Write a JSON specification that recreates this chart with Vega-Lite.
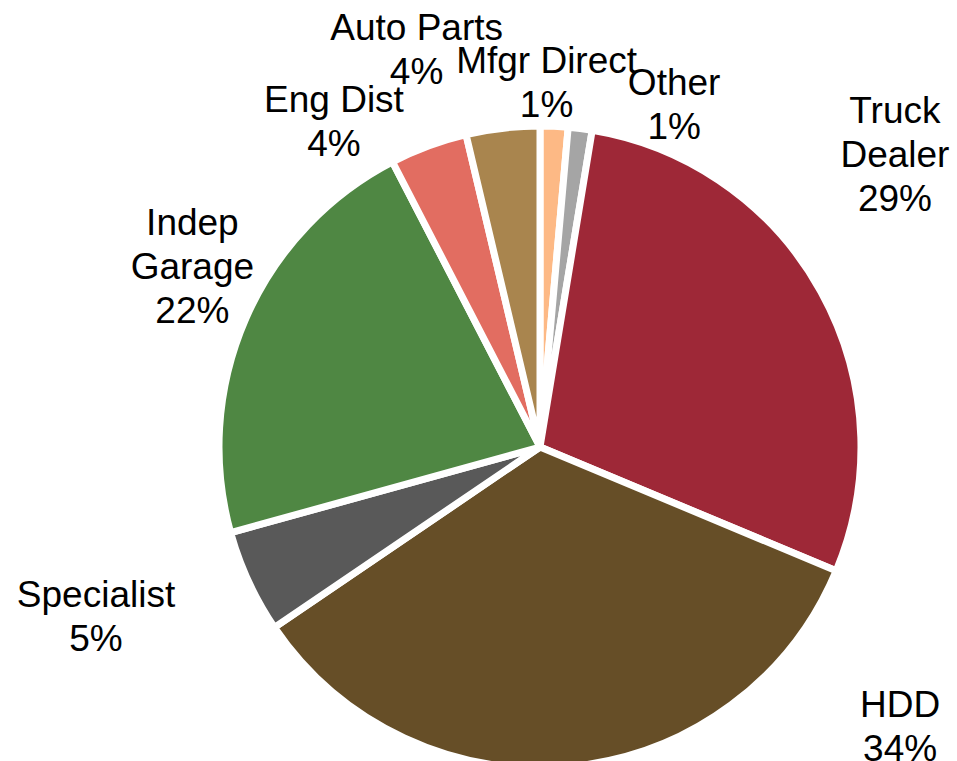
{
  "$schema": "https://vega.github.io/schema/vega-lite/v6.json",
  "width": 834,
  "height": 628,
  "autosize": {"type": "none"},
  "padding": {"left": 123, "top": 133, "right": 0, "bottom": 0},
  "background": "white",
  "config": {"view": {"stroke": null}},
  "data": {
    "values": [
      {"seg": "Mfgr Direct", "value": 1.4, "rank": 1, "lbl": "Mfgr Direct\n1%"},
      {"seg": "Other", "value": 1.2, "rank": 2, "lbl": "Other\n1%"},
      {"seg": "Truck Dealer", "value": 28.7, "rank": 3, "lbl": "Truck\nDealer\n29%"},
      {"seg": "HDD", "value": 34.2, "rank": 4, "lbl": "HDD\n34%"},
      {"seg": "Specialist", "value": 5.2, "rank": 5, "lbl": "Specialist\n5%"},
      {"seg": "Indep Garage", "value": 21.7, "rank": 6, "lbl": "Indep\nGarage\n22%"},
      {"seg": "Eng Dist", "value": 3.9, "rank": 7, "lbl": "Eng Dist\n4%"},
      {"seg": "Auto Parts", "value": 3.7, "rank": 8, "lbl": "Auto Parts\n4%"}
    ]
  },
  "encoding": {
    "theta": {"field": "value", "type": "quantitative", "stack": true},
    "order": {"field": "rank", "type": "quantitative"},
    "detail": {"field": "seg", "type": "nominal"}
  },
  "layer": [
    {
      "mark": {"type": "arc", "outerRadius": 321, "stroke": "white", "strokeWidth": 7},
      "encoding": {
        "color": {
          "field": "seg",
          "type": "nominal",
          "legend": null,
          "scale": {
            "domain": ["Mfgr Direct", "Other", "Truck Dealer", "HDD", "Specialist", "Indep Garage", "Eng Dist", "Auto Parts"],
            "range": ["#FDB985", "#A5A5A5", "#9E2837", "#664E27", "#595959", "#4F8743", "#E26D61", "#A9854E"]
          }
        }
      }
    },
    {
      "mark": {"type": "text", "radius": 400, "dx": -11, "dy": 15, "align": "center", "baseline": "middle", "fontSize": 37, "lineHeight": 44, "font": "Liberation Sans", "lineBreak": "\n", "color": "#000000"},
      "encoding": {"text": {"condition": {"test": "datum.seg === 'Mfgr Direct'", "field": "lbl"}, "value": ""}}
    },
    {
      "mark": {"type": "text", "radius": 400, "dx": 84, "dy": 34, "align": "center", "baseline": "middle", "fontSize": 37, "lineHeight": 44, "font": "Liberation Sans", "lineBreak": "\n", "color": "#000000"},
      "encoding": {"text": {"condition": {"test": "datum.seg === 'Other'", "field": "lbl"}, "value": ""}}
    },
    {
      "mark": {"type": "text", "radius": 400, "dx": 5, "dy": -141, "align": "center", "baseline": "middle", "fontSize": 37, "lineHeight": 44, "font": "Liberation Sans", "lineBreak": "\n", "color": "#000000"},
      "encoding": {"text": {"condition": {"test": "datum.seg === 'Truck Dealer'", "field": "lbl"}, "value": ""}}
    },
    {
      "mark": {"type": "text", "radius": 400, "dx": 320, "dy": -139, "align": "center", "baseline": "middle", "fontSize": 37, "lineHeight": 44, "font": "Liberation Sans", "lineBreak": "\n", "color": "#000000"},
      "encoding": {"text": {"condition": {"test": "datum.seg === 'HDD'", "field": "lbl"}, "value": ""}}
    },
    {
      "mark": {"type": "text", "radius": 400, "dx": -81, "dy": -19, "align": "center", "baseline": "middle", "fontSize": 37, "lineHeight": 44, "font": "Liberation Sans", "lineBreak": "\n", "color": "#000000"},
      "encoding": {"text": {"condition": {"test": "datum.seg === 'Specialist'", "field": "lbl"}, "value": ""}}
    },
    {
      "mark": {"type": "text", "radius": 400, "dx": 19, "dy": -63, "align": "center", "baseline": "middle", "fontSize": 37, "lineHeight": 44, "font": "Liberation Sans", "lineBreak": "\n", "color": "#000000"},
      "encoding": {"text": {"condition": {"test": "datum.seg === 'Indep Garage'", "field": "lbl"}, "value": ""}}
    },
    {
      "mark": {"type": "text", "radius": 400, "dx": -67, "dy": 29, "align": "center", "baseline": "middle", "fontSize": 37, "lineHeight": 44, "font": "Liberation Sans", "lineBreak": "\n", "color": "#000000"},
      "encoding": {"text": {"condition": {"test": "datum.seg === 'Eng Dist'", "field": "lbl"}, "value": ""}}
    },
    {
      "mark": {"type": "text", "radius": 400, "dx": -77, "dy": -21, "align": "center", "baseline": "middle", "fontSize": 37, "lineHeight": 44, "font": "Liberation Sans", "lineBreak": "\n", "color": "#000000"},
      "encoding": {"text": {"condition": {"test": "datum.seg === 'Auto Parts'", "field": "lbl"}, "value": ""}}
    }
  ]
}
